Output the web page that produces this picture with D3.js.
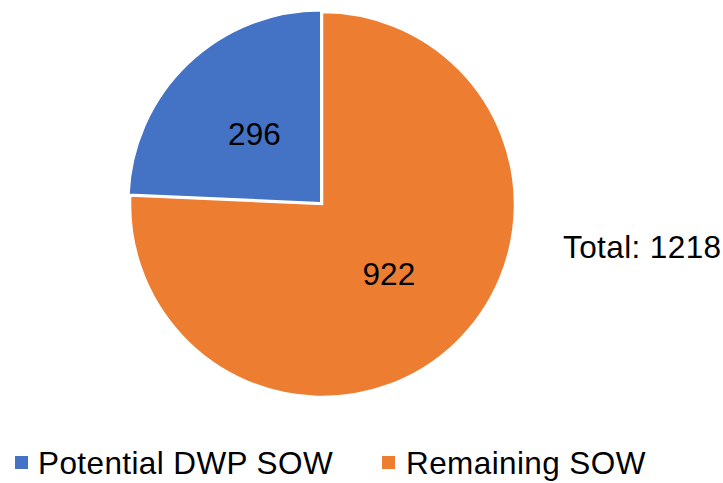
<!DOCTYPE html>
<html>
<head>
<meta charset="utf-8">
<script src="https://cdn.jsdelivr.net/npm/d3@7"></script>
<style>
  html, body { margin: 0; padding: 0; background: #fff; }
  svg { display: block; font-family: "Liberation Sans", Arial, Helvetica, sans-serif; }
</style>
</head>
<body>
<svg id="chart" width="723" height="483"></svg>
<script>
// Scope-of-work split
const categories = ["Potential DWP SOW", "Remaining SOW"];
const values = [296, 922];
const colors = ["#4472C4", "#ED7D31"];
const totalLabel = "Total: " + d3.sum(values);

const svg = d3.select("#chart");
const cx = 322.5, cy = 204.5, r = 192;
const explode = [2.5, 0];
const fontSize = 31.5;

const total = d3.sum(values);
// First slice ends at 12 o'clock, the rest runs clockwise from there
const startA = -2 * Math.PI * values[0] / total;
const pie = d3.pie().sort(null).value(d => d.value)
  .startAngle(startA).endAngle(startA + 2 * Math.PI);
const data = categories.map((c, i) => ({ name: c, value: values[i], color: colors[i], ex: explode[i] }));
const arcs = pie(data);

const arc = d3.arc().innerRadius(0).outerRadius(r);

const g = svg.append("g").attr("transform", `translate(${cx},${cy})`);

const slice = g.selectAll("g.slice").data(arcs).join("g")
  .attr("class", "slice")
  .attr("transform", d => {
    const mid = (d.startAngle + d.endAngle) / 2;
    return `translate(${Math.sin(mid) * d.data.ex},${-Math.cos(mid) * d.data.ex})`;
  });

slice.append("path")
  .attr("d", arc)
  .attr("fill", d => d.data.color)
  .attr("stroke", "#fff")
  .attr("stroke-width", 1.5)
  .attr("stroke-linejoin", "miter");

slice.append("text")
  .attr("transform", d => `translate(${arc.centroid(d)})`)
  .attr("text-anchor", "middle")
  .attr("dy", "0.36em")
  .attr("font-size", fontSize)
  .attr("fill", "#000")
  .text(d => d.data.value);

// Total annotation
svg.append("text")
  .attr("x", 563)
  .attr("y", 258)
  .attr("font-size", fontSize)
  .attr("letter-spacing", 0.4)
  .attr("fill", "#000")
  .text(totalLabel);

// Legend
const legendItems = [
  { x: 15, tx: 38 },
  { x: 382, tx: 406 }
];
const legend = svg.selectAll("g.legend").data(data).join("g").attr("class", "legend");
legend.append("rect")
  .attr("x", (d, i) => legendItems[i].x)
  .attr("y", 456)
  .attr("width", 13)
  .attr("height", 13)
  .attr("fill", d => d.color);
legend.append("text")
  .attr("x", (d, i) => legendItems[i].tx)
  .attr("y", 474)
  .attr("font-size", fontSize)
  .attr("letter-spacing", 0.4)
  .attr("fill", "#000")
  .text(d => d.name);
</script>
</body>
</html>
